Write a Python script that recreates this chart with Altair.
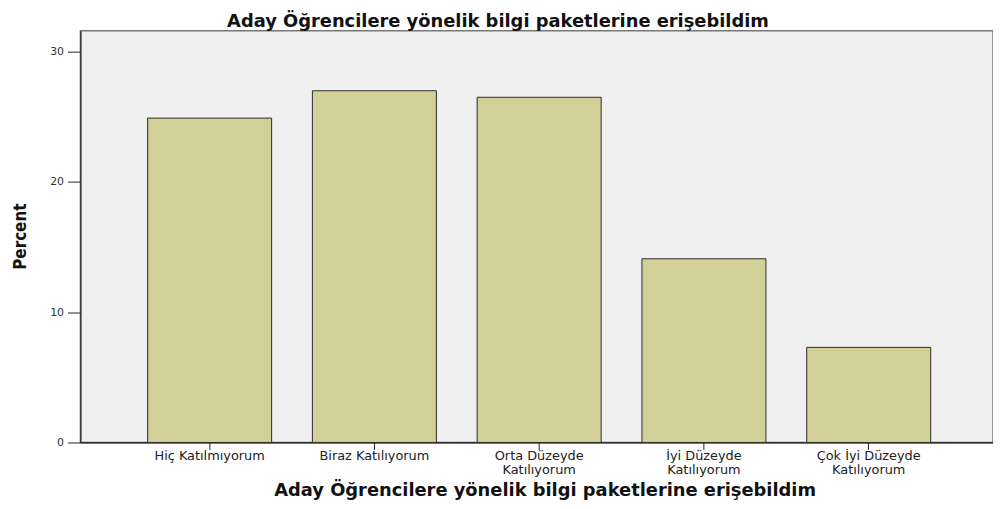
import altair as alt
import pandas as pd

categories = ["Hiç Katılmıyorum", "Biraz Katılıyorum", "Orta Düzeyde Katılıyorum",
              "İyi Düzeyde Katılıyorum", "Çok İyi Düzeyde Katılıyorum"]
percents = [24.9, 27.0, 26.5, 14.1, 7.3]
y_ticks = [0, 10, 20, 30]
title_text = "Aday Öğrencilere yönelik bilgi paketlerine erişebildim"

df = pd.DataFrame({"cat": categories, "pct": percents})

label_expr = ("indexof(datum.label, 'Düzeyde') >= 0 ? "
              "split(replace(datum.label, 'Düzeyde ', 'Düzeyde|'), '|') : datum.label")

chart = alt.Chart(df).mark_bar(
    color="#d3cf98", stroke="#2a2a2a", strokeWidth=1
).encode(
    x=alt.X("cat:N", sort=categories,
            scale=alt.Scale(paddingInner=0.2475, paddingOuter=0.393, align=0.519),
            axis=alt.Axis(title=title_text, labelAngle=0, labelExpr=label_expr,
                          labelFont="DejaVu Sans", labelFontSize=13, labelColor="#222",
                          labelLineHeight=14, labelPadding=0, labelBaseline="top",
                          tickSize=7, tickColor="#222", domainColor="#111", domainWidth=1.2,
                          titleFont="DejaVu Sans", titleFontSize=18, titleFontWeight="bold",
                          titleColor="#111", titleX=468, titleY=53.5,
                          titleBaseline="alphabetic", titleAlign="center")),
    y=alt.Y("pct:Q", scale=alt.Scale(domain=[0, 31.6], nice=False, zero=True),
            axis=alt.Axis(title="Percent", values=y_ticks, grid=False,
                          labelFont="DejaVu Sans", labelFontSize=11, labelColor="#333",
                          labelPadding=4, tickSize=13, tickColor="#222",
                          domainColor="#222", domainWidth=1.2,
                          titleFont="Liberation Sans Narrow, DejaVu Sans Condensed, Liberation Sans",
                          titleFontSize=17, titleFontWeight="bold", titleColor="#111",
                          titleX=-60, titleY=207, titleAngle=-90,
                          titleAlign="center", titleBaseline="middle")),
).properties(
    width=920, height=415,
    title=alt.TitleParams(title_text, font="DejaVu Sans", fontSize=18, fontWeight="bold",
                          color="#111", anchor="middle", frame="group", dx=-39, dy=21,
                          offset=7, baseline="alphabetic"),
    autosize=alt.AutoSizeParams(type="none"),
    padding={"left": 73, "top": 21, "right": 0, "bottom": 57},
).configure(
    background="white"
).configure_view(
    fill="#f0f0f0", stroke="#777", strokeWidth=1.5
)

chart.save("out.html", embed_options={"renderer": "svg", "actions": False})
